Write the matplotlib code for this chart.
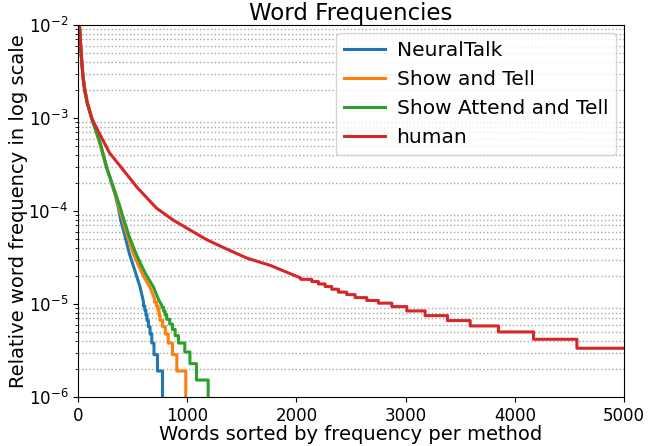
import matplotlib
matplotlib.use("Agg")
import matplotlib.pyplot as plt

# smooth head of each curve: word rank and relative frequency
neuraltalk_rank = [0, 10, 20, 30, 45, 60, 85, 130, 170, 208, 260, 310, 340, 369, 391, 420, 470,
                   520, 568, 600]
neuraltalk_freq = [0.05, 0.012, 7.5e-3, 4.8e-3, 2.9e-3, 2.1e-3, 1.45e-3, 9.5e-4, 7.0e-4, 5.0e-4,
                   3.0e-4, 1.95e-4, 1.5e-4, 1.1e-4, 8.0e-5, 6.0e-5, 3.5e-5, 2.3e-5, 1.53e-5,
                   1.05e-5]
# stepped tail: rank where each count level starts, and its frequency
neuraltalk_step_rank = [600, 612, 622, 632, 645, 660, 676, 696, 728, 774, 1000]
neuraltalk_step_freq = [9.5e-6, 8.55e-6, 7.6e-6, 6.65e-6, 5.7e-6, 4.75e-6, 3.8e-6, 2.85e-6,
                        1.9e-6, 9.5e-7, 9.5e-7]

showtell_rank = [0, 10, 20, 30, 45, 60, 85, 130, 170, 208, 260, 310, 340, 375, 410, 450, 506,
                 560, 610, 660, 700]
showtell_freq = [0.05, 0.012, 7.6e-3, 4.9e-3, 3.0e-3, 2.15e-3, 1.5e-3, 9.7e-4, 7.0e-4, 5.0e-4,
                 3.05e-4, 2.0e-4, 1.55e-4, 1.1e-4, 8.0e-5, 5.5e-5, 3.5e-5, 2.5e-5, 1.9e-5,
                 1.5e-5, 1.15e-5]
showtell_step_rank = [700, 718, 734, 742, 751, 775, 800, 826, 865, 905, 987, 1200]
showtell_step_freq = [1.05e-5, 9.5e-6, 8.55e-6, 7.6e-6, 6.65e-6, 5.7e-6, 4.75e-6, 3.8e-6,
                      2.85e-6, 1.9e-6, 9.5e-7, 9.5e-7]

showattend_rank = [0, 10, 20, 30, 45, 60, 85, 130, 170, 208, 263, 323, 385, 421, 470, 531, 580,
                   630, 690, 740, 770]
showattend_freq = [0.05, 0.012, 7.5e-3, 4.8e-3, 2.9e-3, 2.1e-3, 1.45e-3, 9.5e-4, 7.0e-4, 5.2e-4,
                   2.9e-4, 1.83e-4, 1.11e-4, 8.0e-5, 5.3e-5, 3.5e-5, 2.6e-5, 2.0e-5, 1.53e-5,
                   1.1e-5, 9.5e-6]
showattend_step_rank = [770, 785, 798, 812, 840, 865, 890, 920, 978, 1025, 1085, 1192, 1400]
showattend_step_freq = [9.12e-6, 8.36e-6, 7.6e-6, 6.84e-6, 6.08e-6, 5.32e-6, 4.56e-6, 3.8e-6,
                        3.04e-6, 2.28e-6, 1.52e-6, 7.6e-7, 7.6e-7]

human_rank = [0, 10, 20, 30, 45, 60, 85, 130, 205, 290, 400, 540, 720, 870, 1030, 1180, 1340,
              1550, 1760, 1950, 2040]
human_freq = [0.05, 0.012, 7.5e-3, 4.8e-3, 2.8e-3, 2.0e-3, 1.44e-3, 9.7e-4, 6.5e-4, 4.2e-4,
              2.9e-4, 1.8e-4, 1.07e-4, 8.0e-5, 6.2e-5, 4.9e-5, 4.0e-5, 3.1e-5, 2.6e-5, 2.1e-5,
              1.9e-5]
human_step_rank = [2040, 2140, 2201, 2262, 2323, 2384, 2460, 2537, 2644, 2750, 2873, 3010, 3178,
                   3382, 3590, 3849, 4170, 4567, 5000]
human_step_freq = [1.84e-5, 1.74e-5, 1.64e-5, 1.54e-5, 1.44e-5, 1.34e-5, 1.26e-5, 1.17e-5,
                   1.09e-5, 1.02e-5, 9.36e-6, 8.41e-6, 7.49e-6, 6.62e-6, 5.80e-6, 5.00e-6,
                   4.17e-6, 3.34e-6, 3.34e-6]

series = [
    ("NeuralTalk", neuraltalk_rank, neuraltalk_freq, neuraltalk_step_rank, neuraltalk_step_freq, "#1f77b4"),
    ("Show and Tell", showtell_rank, showtell_freq, showtell_step_rank, showtell_step_freq, "#ff7f0e"),
    ("Show Attend and Tell", showattend_rank, showattend_freq, showattend_step_rank, showattend_step_freq, "#2ca02c"),
    ("human", human_rank, human_freq, human_step_rank, human_step_freq, "#d62728"),
]


def join_curve(r, f, sr, sf):
    # smooth head followed by a staircase through the count levels
    xs, ys = list(r), list(f)
    for i in range(len(sr) - 1):
        xs += [sr[i], sr[i + 1]]
        ys += [sf[i], sf[i]]
    return xs, ys


fig = plt.figure(figsize=(6.55, 4.46), dpi=100)
ax = fig.add_axes([0.119, 0.110, 0.834, 0.834])

for name, r, f, sr, sf, c in series:
    xs, ys = join_curve(r, f, sr, sf)
    ax.plot(xs, ys, color=c, linewidth=2.2, label=name)

ax.set_yscale("log")
ax.set_xlim(0, 5000)
ax.set_ylim(1e-6, 1e-2)
ax.grid(True, which="minor", axis="y", linestyle=":", color="#a8a8a0", linewidth=1)
ax.tick_params(labelsize=12)

ax.set_title("Word Frequencies", fontsize=16.5, pad=3)
ax.set_xlabel("Words sorted by frequency per method", fontsize=14, labelpad=0)
ax.set_ylabel("Relative word frequency in log scale", fontsize=14, labelpad=0)
ax.legend(loc="upper right", fontsize=14.5, labelspacing=0.5, borderaxespad=0.4,
          handletextpad=0.6)

fig.savefig("out.png", dpi=100)
